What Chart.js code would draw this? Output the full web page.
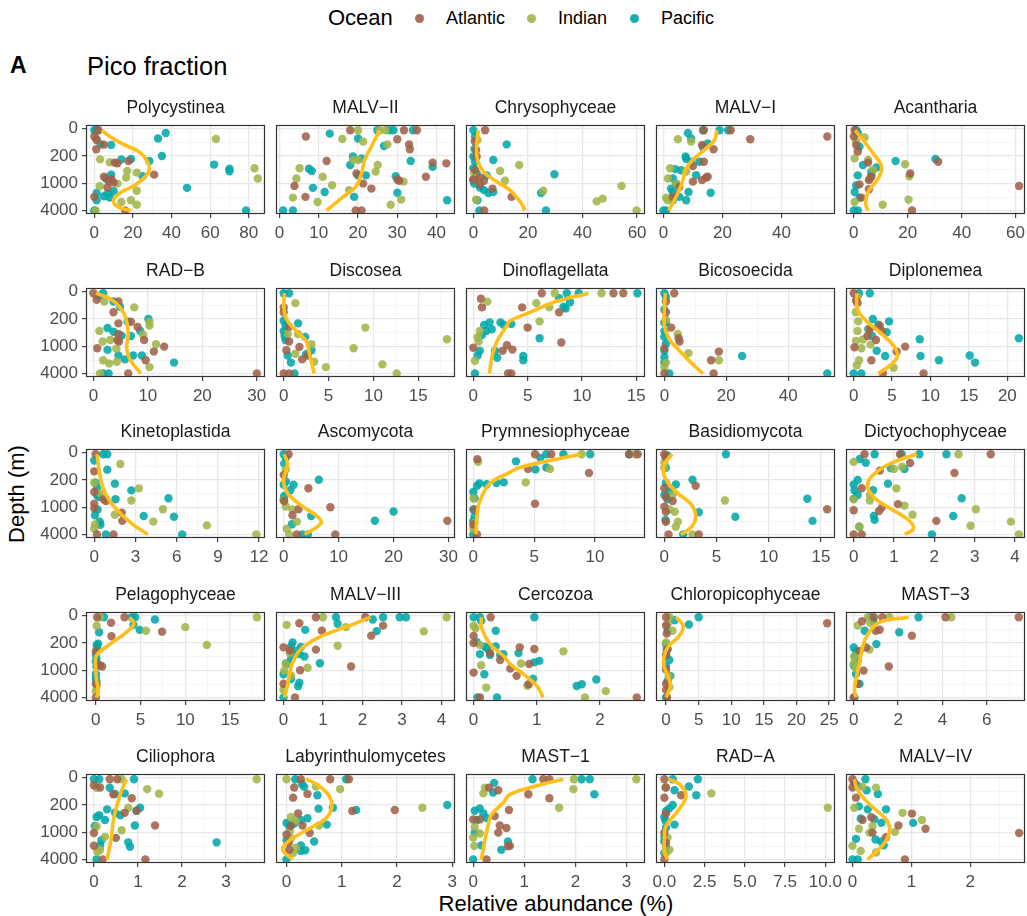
<!DOCTYPE html>
<html><head><meta charset="utf-8">
<script src="https://cdn.jsdelivr.net/npm/chart.js@4.4.1/dist/chart.umd.min.js"></script>
<style>
body{margin:0;background:#fff;width:1027px;height:916px;position:relative;overflow:hidden;font-family:"Liberation Sans",Arial,Helvetica,sans-serif;color:#000;}
.t{position:absolute;white-space:nowrap;}
canvas{position:absolute;}
.strip{position:absolute;font-size:17.5px;color:#1a1a1a;text-align:center;line-height:20px;white-space:nowrap;}
.dot{position:absolute;width:9px;height:9px;border-radius:50%;}
</style></head><body>
<div class="t" style="left:328px;top:5px;font-size:22px;line-height:26px;">Ocean</div>
<div class="dot" style="left:414.5px;top:13.5px;background:rgba(160,96,72,0.9)"></div>
<div class="t" style="left:446px;top:7px;font-size:18px;line-height:22px;">Atlantic</div>
<div class="dot" style="left:526.5px;top:13.5px;background:rgba(160,182,72,0.9)"></div>
<div class="t" style="left:558px;top:7px;font-size:18px;line-height:22px;">Indian</div>
<div class="dot" style="left:629.5px;top:13.5px;background:rgba(0,166,168,0.9)"></div>
<div class="t" style="left:661px;top:7px;font-size:18px;line-height:22px;">Pacific</div>
<div class="t" style="left:10px;top:52px;font-size:23px;line-height:26px;font-weight:bold;">A</div>
<div class="t" style="left:87px;top:51px;font-size:25.5px;line-height:30px;">Pico fraction</div>
<div class="t" style="left:17px;top:494px;font-size:22px;transform:translate(-50%,-50%) rotate(-90deg);">Depth (m)</div>
<div class="t" style="left:556px;top:904px;font-size:22px;transform:translate(-50%,-50%);">Relative abundance (%)</div>
<script>
// ---------------- DATA ----------------
const panelNames = ["Polycystinea","MALV\u2212II","Chrysophyceae","MALV\u2212I","Acantharia",
  "RAD\u2212B","Discosea","Dinoflagellata","Bicosoecida","Diplonemea",
  "Kinetoplastida","Ascomycota","Prymnesiophyceae","Basidiomycota","Dictyochophyceae",
  "Pelagophyceae","MALV\u2212III","Cercozoa","Chloropicophyceae","MAST\u22123",
  "Ciliophora","Labyrinthulomycetes","MAST\u22121","RAD\u2212A","MALV\u2212IV"];
const oceans = ["Atlantic","Indian","Pacific"];
const depthBreaks = [0,200,1000,4000];
// x-axis domain and tick step of each panel (relative abundance, %)
const xLimits = [[-4.3,88.4],[-0.9,44.7],[-2.7,62.9],[-2.5,58.1],[-2.9,63.5],
  [-1.35,31.5],[-0.86,19.1],[-0.67,15.8],[-2.7,55.1],[-1.0,22.3],
  [-0.6,12.43],[-1.4,31.2],[-0.6,14.1],[-0.8,16.35],[-0.19,4.25],
  [-1.1,18.9],[-0.19,4.34],[-0.12,2.71],[-1.54,25.9],[-0.35,7.72],
  [-0.18,3.89],[-0.19,3.05],[-0.14,3.36],[-0.52,10.6],[-0.11,2.93]];
const xSteps = [20,10,20,20,20, 10,5,5,20,5, 3,10,5,5,1, 5,1,1,5,2, 1,1,1,2.5,1];

// points: [relative abundance %, depth m]
const atlantic = [
 [[2,5],[0,33],[1.2,52],[1,124],[5,84],[10.6,306],[12,320],[17.7,278],[31,615],[5,690],[7.3,861],[6.8,1232],[0,2000],[16,4000],[9,800],[10,950]],
 [[18,5],[31.7,5],[35,5],[6.7,33],[30,48],[33,82],[33.2,124],[12,278],[39,306],[42.5,320],[37.3,690],[19.6,575],[21.3,1000],[30,800],[30.5,860],[3.8,1130],[23.4,1300],[6.6,2000],[19.4,4000],[20.9,4000]],
 [[4.3,5],[0.6,475],[2.4,720],[3.9,860],[2.4,1040],[7,1300],[0,800],[14,2000],[4,4000],[1.2,208],[0.5,60],[1,130]],
 [[13.7,5],[22.8,5],[29.4,48],[13.1,86],[17,124],[13.7,290],[10,378],[14.5,720],[13.1,830],[15,690],[10,900],[3.2,2000],[55.5,33],[5.4,1200]],
 [[0.3,5],[0,33],[0.9,86],[1.5,147],[5.3,306],[5.6,830],[2.1,1040],[6.5,690],[20.9,575],[31.3,290],[61.3,1130],[21.6,4000],[5.6,1340],[2.8,2080]],
 [[0,5],[0.6,34],[4.6,43],[3.7,124],[4.6,266],[6.9,240],[8.1,330],[4.6,500],[4.4,700],[4.7,760],[9.3,700],[0.7,1090],[11.1,1300],[13,1000],[9.6,2040],[6.4,4000],[30,4000]],
 [[0,82],[0,124],[0.6,330],[0.6,760],[0.3,1210],[2.05,1950],[1.75,1020],[0,4000],[0.6,4000],[2.7,1600]],
 [[0.7,29],[0.8,82],[0,1060],[3.1,930],[2.7,1250],[3.2,4000],[3.5,4000],[3.6,1170],[6.3,5],[12.9,5],[13.8,5],[4.5,82],[7.9,124],[5,345],[8.1,800]],
 [[3.2,5],[0.5,43],[0.5,124],[2.2,345],[4.6,635],[4.9,760],[17.6,1300],[15.1,2040],[15.9,4000],[0,4000],[0,1100]],
 [[0,5],[0.3,38],[0.5,53],[3.4,306],[2.1,378],[3.7,420],[2.9,700],[6.7,1000],[5.6,1300],[2.3,2040],[0.1,1040],[9.1,4000],[3.8,4000],[1.8,560]],
 [[0.1,5],[0,106],[0,420],[0,810],[0,1040],[0.7,635],[0.85,700],[2,1300],[2.04,2000],[0.2,4000],[1.4,4000]],
 [[0.9,5],[0,140],[4.5,337],[2.7,1090],[8.5,981],[29.8,1990],[2.4,4000],[9.4,4000],[1.6,1500],[0.1,700]],
 [[0.33,26],[0.1,1100],[0,2400],[0.3,4000],[5.07,5],[6.4,5],[12.8,5],[13.5,5],[4.5,86],[9.5,121],[5.07,810]],
 [[0,5],[0.1,16],[0,337],[0.15,560],[0,950],[0.15,1250],[3,290],[0.15,2100],[0.4,4000],[3.3,4000],[15.6,1090],[0.8,700]],
 [[0.27,5],[1.15,5],[3.4,5],[1.4,46],[2.5,121],[0.65,100],[0.2,337],[1.1,830],[0.7,1000],[0.63,1200],[0,1150],[2.05,2000],[0,4000],[0.2,4000]],
 [[0.15,5],[3.2,5],[1.7,29],[1.75,124],[7.4,84],[0.7,800],[0,340],[0,2000],[0,4000],[0.45,750]],
 [[0.82,5],[2.07,5],[0.4,31],[0.97,77],[2.52,44],[2.22,118],[0,266],[0.82,306],[0.16,320],[1.71,800],[0.42,981],[0,1990],[0.29,4000]],
 [[0.27,5],[0,120],[0,200],[0.1,4000],[0.26,380],[0,1110],[0.42,560],[0.73,266],[0.96,295],[0.68,1320],[0.87,2040],[0.88,700],[2.58,4000],[0.58,900]],
 [[0,5],[0,43],[0.1,100],[0,420],[0,940],[0,1990],[0,2700],[24.7,31],[0.15,4000],[0.25,300]],
 [[0.37,22],[0.91,5],[1.29,5],[4.14,5],[7.44,5],[0.99,77],[2.62,118],[0.26,330],[1.58,800],[0.44,1000],[0.18,1990],[0,4000],[0.56,270],[1.17,70]],
 [[0.36,5],[0.53,5],[0,31],[0.14,43],[0.44,89],[0.86,124],[0.7,330],[0.97,290],[1.39,680],[0,1020],[0.5,1320],[0,1990],[0.2,4000],[1.17,4000]],
 [[0.26,5],[0.79,5],[1.13,5],[0.14,43],[0.12,118],[0.38,86],[1.19,295],[1.96,278],[0.08,700],[0.29,680],[0.42,1020],[0,1100],[0.04,1700],[0.05,2450],[0.21,340]],
 [[0.13,485],[0.42,400],[0.7,278],[0.31,44],[0.49,60],[0.52,680],[0.49,1000],[0.65,780],[0.68,2040],[0.26,4000],[0,485],[1.37,5],[1.49,5],[1.08,89],[1.49,124],[0.72,2000]],
 [[0,5],[0.1,43],[0,118],[0.1,345],[1.04,97],[0,4000],[0,1000],[0.1,1700]],
 [[0,5],[0.03,20],[0,43],[0.06,118],[1.01,345],[0.78,680],[1.24,810],[0.34,1000],[0.57,1280],[2.83,1020],[0.89,4000],[0.32,430],[0.17,500]]
];
const indian = [
 [[63,46],[83,430],[84.7,760],[1.2,46],[3,250],[17,500],[16.5,720],[22,550],[2.8,1130],[22,1460],[14,2600],[19,2380],[22,3000],[0.7,4000],[12,1000],[8,300]],
 [[20,5],[25.5,5],[27,5],[16,46],[21.3,62],[27.5,82],[5.1,430],[4.3,760],[11,690],[13.4,1090],[24.5,520],[25,355],[20,260],[18.7,260],[31.6,900],[3.4,2080],[9.7,2600],[17.7,1410],[28.3,3000],[31,2300]],
 [[16.8,355],[25.6,1460],[54.3,1130],[45.2,2520],[47.4,2190],[59.8,4000],[9.8,500],[11.6,860],[1,2300],[0.2,560],[0.6,760],[1.5,52]],
 [[4.9,48],[9.4,62],[2.3,430],[1.5,760],[0.9,2080],[1.5,2380],[4.3,1000],[7.7,520]],
 [[4,38],[0.9,62],[0.3,235],[5.3,260],[19,337],[20.6,670],[5.9,760],[20.3,2300],[10.7,3000],[0.3,2600],[7.1,475]],
 [[2,43],[7.5,82],[1.1,420],[1.7,760],[3.1,700],[4.2,1110],[10.3,306],[10.3,240],[9.1,520],[11.5,880],[1.8,2040],[2.9,2400],[4.3,2200],[10.3,2900],[1.2,4000]],
 [[1.3,53],[0.45,500],[1.6,500],[3.1,880],[9.1,345],[18.2,670],[7.8,1090],[4.7,2900],[11,2520],[12.6,4000],[1.3,1460],[3.4,2200]],
 [[1.3,44],[0.6,420],[0.4,600],[0.15,2100],[0.5,760],[7.5,5],[11.8,5],[5.8,53],[7,82],[6.1,235]],
 [[4.3,500],[7.8,1410],[17.6,2040],[0,2900],[0.5,2300],[0.5,210]],
 [[0.5,20],[0.3,124],[0.6,235],[0.5,420],[0.3,740],[1,1090],[0.7,2040],[0.4,2650],[5.2,3000],[1.2,680],[2.2,900],[2,380]],
 [[1.9,52],[0,240],[3.25,340],[2.7,680],[5,1090],[4.3,2080],[8.2,2520],[11.8,4000],[0,3000],[0.05,2400],[1.5,1460],[0.4,450]],
 [[0.4,90],[0,680],[0.4,940],[2.4,2080],[0.55,3000],[1,4000],[1.6,1100]],
 [[0.4,40],[0,600],[0.1,2200],[0,3000],[8.9,5],[13.3,5],[6.3,86],[4.3,235]],
 [[0,43],[0,77],[0.8,494],[1,1250],[1.3,2080],[1.1,2700],[2.7,4000],[5.8,680],[0.5,1100]],
 [[0,40],[2.6,5],[1,86],[1.2,70],[1.06,340],[0.4,500],[0.4,680],[1.26,900],[1.46,1460],[3.03,1090],[2.9,2560],[3.9,2080],[4.1,4000],[0.14,2700],[0,640]],
 [[18,5],[0.1,45],[10,53],[5.6,77],[12.4,230],[0.1,2200],[0,2900],[0.45,5]],
 [[1,5],[4.13,5],[0.08,40],[1.58,53],[3.55,82],[1.37,240],[0.06,700],[0.16,380],[0.02,1000],[0.61,860],[0,2700],[0.19,1300]],
 [[0,45],[0.03,60],[0.1,230],[0.12,750],[0.2,2420],[1.42,340],[0.75,680],[0.85,2200],[1.76,4000],[2.09,2900]],
 [[0.5,5],[0.25,36],[1,77],[0,195],[0.4,1320],[0.5,2350]],
 [[0.18,43],[0.64,5],[1.6,5],[4.4,5],[0.75,30],[0.71,306],[0,680],[0.1,900],[0.03,460]],
 [[3.7,5],[0.63,5],[0.06,45],[1.21,53],[1.48,84],[0.78,240],[0.63,880],[0.06,720],[0.25,1250],[0.08,2700],[0.14,2450]],
 [[0,5],[0.53,38],[0.97,53],[2.46,240],[0.08,420],[0.16,520],[0.59,680],[0.06,960],[0.12,2900],[0.17,2200],[0.08,1350]],
 [[0.23,44],[0.2,82],[0,1300],[0.02,2000],[0.03,740],[0.13,1050],[1.97,5],[3.19,5],[1.96,53],[1.68,240]],
 [[0.06,43],[2.92,82],[10.15,240],[0.31,2450],[0.1,2900],[0.2,1300]],
 [[0.17,40],[0.4,44],[0.03,240],[0.85,330],[1.18,500],[0.11,810],[0.29,1000],[0.72,960],[0,2000],[0.14,2600],[0.4,2800],[0.34,700]]
];
const pacific = [
 [[0,5],[1,5],[2,5],[37,16],[33,43],[3.3,82],[8.7,86],[35,200],[14,250],[19,245],[28.5,278],[62,345],[70,440],[70,510],[8.7,615],[25,670],[48,1250],[1.2,1640],[7,1690],[10,1490],[5,1940],[8,2080],[1.2,2380],[78.6,4000],[0,4000],[6,760]],
 [[12.8,19],[20,43],[24.9,5],[27.9,5],[29,5],[34,5],[26.6,95],[18.7,208],[20.9,235],[18,355],[7.5,440],[8.2,500],[33.4,278],[39,395],[20,640],[22,640],[29.6,670],[30,1617],[19,2000],[8.5,1250],[11.5,1560],[42.7,2380],[0.9,4000],[3.4,4000]],
 [[0,5],[0.6,33],[0,208],[0.6,290],[0,430],[1.2,575],[0,830],[2.4,1232],[3.9,1410],[5.5,1640],[7.3,1560],[1.5,2380],[2.2,4000],[12.2,82],[7.3,260],[4.9,640],[29.7,600],[24.8,1640],[26.6,4000],[0.4,120],[0.3,1000]],
 [[13.4,5],[19,5],[21.9,5],[8.3,16],[9.4,43],[15,75],[13.4,106],[7.5,208],[7.7,240],[9.4,290],[12.2,290],[4,450],[6,480],[11.1,635],[3.2,760],[4.3,1000],[2.6,1300],[3.2,1560],[8.5,1560],[16,1620],[7.7,2380],[5.4,2000],[0,4000],[0.9,4000],[3.2,2380]],
 [[0.9,5],[1.5,16],[2.1,100],[15.5,278],[30.3,245],[3.4,355],[8.4,409],[6.5,520],[1.5,640],[0.9,1100],[0.3,1560],[2.1,2080],[0,4000],[1.5,4000],[6.5,640]],
 [[1.8,5],[1.2,15],[3.7,43],[4.9,77],[6.3,240],[10.1,201],[2.6,355],[3.7,440],[5.2,550],[6.9,560],[8.6,420],[2.6,1190],[4.6,1590],[5.8,1950],[7.3,1590],[8.9,1590],[14.8,2300],[1.8,4000],[2.8,4000]],
 [[0,5],[0.6,5],[0,225],[0.2,300],[0,420],[0.1,560],[1.6,266],[2.4,590],[3.1,1210],[2.5,1500],[0.45,1590],[0.8,2300],[1.2,4000],[0.2,700]],
 [[1,295],[1.5,250],[1.7,380],[1.2,420],[0.8,530],[0.6,1250],[0.4,1590],[0.15,4000],[2.5,250],[2.8,290],[2.2,1790],[2,1250],[8.6,5],[9.7,5],[15.1,5],[7.9,26],[8.9,48],[8.3,77],[8.5,90],[3.5,278],[6.1,635],[4.6,1640],[4.6,2040]],
 [[0,5],[0.5,20],[0,100],[0,255],[0,420],[0,590],[0.5,860],[0,1250],[0,1750],[0,2300],[1.6,4000],[25.1,1640],[52.6,4000],[0.5,250]],
 [[2.1,5],[0.7,5],[0,4000],[1,4000],[2.5,200],[4.6,235],[3.2,290],[1.9,380],[4.3,455],[2.4,560],[3,1250],[4.1,1640],[8.6,670],[8.7,1640],[11.1,2040],[15.1,1590],[15.8,2300],[21.5,635]],
 [[0.65,5],[0.95,5],[0,33],[0.95,92],[1.5,255],[0.1,240],[0.2,330],[0.2,500],[0.35,560],[2.7,384],[1.55,635],[5.4,600],[3.6,1560],[5.8,1617],[0.4,2100],[0.45,2450],[6.4,4000],[0.85,4000],[0.05,1500],[0.25,1100]],
 [[0,5],[0.4,20],[0.1,50],[6.4,198],[1.8,272],[1.2,380],[0,272],[0.1,530],[0,658],[5,1560],[20,1232],[16.6,1990],[1.5,2380],[3.4,4000],[4.4,4000],[0.4,220]],
 [[3.5,37],[0.3,290],[0.5,250],[1.1,265],[0,420],[0.1,600],[0,1100],[0.1,1600],[0,2000],[0,4000],[1.9,245],[2.5,235],[5.5,20],[6,5],[7.4,5],[9.6,5],[12.8,5],[5.1,90],[6,75]],
 [[0.3,10],[0.15,77],[5.9,5],[2.7,198],[1.1,270],[0.15,240],[0.5,400],[0,500],[0.3,640],[3.3,1280],[6.8,1617],[13.7,620],[14.2,2000],[0.1,1900],[1.8,4000]],
 [[0.52,5],[1.19,5],[1.63,5],[2.3,5],[0.15,25],[0.3,45],[0.92,80],[1.26,86],[0.85,255],[0.1,200],[0,270],[0.02,380],[0.1,500],[0,620],[0.48,380],[2.68,600],[0.5,1560],[0.52,1900],[2.47,1560],[0.14,2700],[1.94,4000]],
 [[0.9,5],[4,5],[4.4,5],[4.2,40],[6.6,14],[4.9,71],[0.37,89],[0.26,210],[0.15,280],[0,410],[0.07,530],[0,620],[0.07,800],[0,1200],[0,1500],[0.07,1800],[0.1,230]],
 [[1.33,5],[2.52,5],[2.94,5],[3.1,5],[1.37,34],[2.26,14],[2.36,80],[0.55,71],[0.23,195],[0.19,250],[0.44,260],[0.33,330],[0.4,400],[0.53,460],[0.19,540],[0.92,670],[0.14,690],[0,1210],[0.19,1560],[0.4,1880],[0.37,2250],[0,4000],[0.06,680],[0.25,430]],
 [[0,5],[0.1,5],[0.12,20],[0.35,77],[0.05,190],[0.18,255],[0.22,290],[0.35,250],[0.26,420],[0.1,400],[0.42,420],[0.47,400],[0.17,1210],[0.06,4000],[0.37,4000],[0.96,5],[0.71,378],[1.04,590],[0.96,640],[0.94,1530],[1.94,1590],[1.71,2040],[1.63,2225]],
 [[1.3,17],[3.5,38],[5,5],[0.25,77],[0,210],[0.1,300],[0,420],[0.5,560],[0.67,1320],[0,800],[0.25,1700],[0,4000]],
 [[0.76,5],[2.92,5],[0.49,77],[2.05,89],[1.02,216],[0,270],[0.1,330],[0.03,460],[0.18,590],[0,760],[0.1,1200],[0.26,2000],[0.03,4000],[0.87,20]],
 [[0,5],[0.12,5],[0.91,5],[0.36,45],[0.48,86],[0.7,82],[0.3,266],[0.12,380],[0.06,420],[0.02,700],[0.25,500],[0.48,330],[1.05,240],[0.97,290],[0.93,680],[0.78,1665],[0.82,2100],[0.14,1950],[0.17,1500],[2.79,1665],[0.06,4000],[0.6,380]],
 [[0.16,5],[1.08,5],[0.28,25],[0.32,40],[0.56,97],[0.58,255],[0.84,240],[1.26,278],[2.91,201],[0.38,455],[0.26,500],[0,590],[0.14,610],[0.73,648],[0.5,1590],[0.26,1950],[0,1500],[0.34,2500],[0.26,2600],[0,4000],[0.05,720]],
 [[0.41,20],[0.39,75],[0.03,290],[0.13,250],[0.2,340],[0.26,450],[0.07,500],[0.03,1000],[0.16,1950],[0,4000],[0.55,2450],[0.68,1590],[1.16,5],[2.12,5],[2.28,5],[2.37,89]],
 [[0.52,5],[2.08,5],[1.52,38],[0.63,60],[1.98,97],[0.52,201],[0.31,250],[0.1,300],[0,420],[0.06,520],[0.63,648],[0.1,760],[0,1250],[0,1600],[0.1,2080],[0,2900]],
 [[0.22,5],[0.03,20],[0.09,35],[0.24,60],[0.43,86],[0.11,220],[0.26,266],[0.57,266],[0.14,460],[0.37,480],[0.49,590],[1.03,590],[0.06,1390],[0.39,1440],[0.49,1590],[0.53,1950],[0,4000],[0.09,4000]]
];
// smoothed trend (yellow line)
const fitLines = [
 [[3.8,5],[8,33],[14,75],[24,165],[28.5,395],[27,635],[21,1090],[14,1560],[10,2380],[12.5,3380],[19,4000]],
 [[25.5,5],[23.8,75],[21.7,260],[20.9,575],[19.4,1190],[16.2,2000],[12,4000]],
 [[1.8,5],[1.2,100],[1.5,260],[3.7,520],[8.5,900],[13.4,1410],[17.7,2860],[18.9,4000]],
 [[18.1,5],[17.3,52],[14.5,115],[10.5,235],[7.7,430],[6.6,830],[5.4,1410],[3.7,2380],[1.8,4000]],
 [[0.5,5],[3.4,52],[7.1,165],[10.3,395],[9,760],[5.3,1560],[4.4,2860],[5.3,4000]],
 [[0.5,5],[3.1,29],[4.9,82],[6,200],[6.4,500],[6.1,1060],[6.7,1950],[8.7,4000]],
 [[0.1,5],[0,68],[0.3,200],[1.4,420],[2.5,740],[2.8,1250],[3.1,2300],[3.4,4000]],
 [[10.6,5],[7.4,48],[5.2,124],[3.4,225],[3.1,306],[2.2,740],[1.7,1790],[1.5,4000]],
 [[0.3,5],[0,108],[0,306],[1.6,670],[4.9,1250],[8.6,2300],[12.4,4000]],
 [[0.4,5],[0.5,95],[1.6,225],[3.4,455],[5.2,960],[5.7,1640],[4.9,2520],[3.2,4000]],
 [[0.2,5],[0.35,92],[0.6,300],[1.15,720],[1.9,1340],[2.85,2460],[3.9,4000]],
 [[0.1,5],[0.7,55],[0,198],[0.7,450],[3.5,950],[6.2,1617],[6.8,2261],[3.8,4000]],
 [[8.8,5],[6,37],[3.8,75],[3,115],[1.4,245],[0.7,540],[0.35,1130],[0.22,4000]],
 [[0.75,5],[0,55],[0,154],[1.1,409],[2.6,860],[3,1617],[2.6,2720],[1.6,4000]],
 [[1.57,5],[1.15,28],[0.65,92],[0.35,245],[0.48,540],[0.9,1040],[1.36,1911],[1.48,2954],[1.27,4000]],
 [[3.8,5],[4.25,34],[3.4,89],[1.6,216],[0.07,440],[0,940],[0.07,1590],[0.26,2900],[0.07,4000]],
 [[2.2,5],[1.67,44],[0.9,134],[0.44,295],[0.23,648],[0.14,1320],[0.1,2225],[0.02,4000]],
 [[0.12,5],[0.13,62],[0.26,216],[0.47,440],[0.58,700],[0.79,1210],[1,2225],[1.1,4000]],
 [[1.5,5],[2.6,44],[2.05,118],[0.26,266],[-0.4,648],[0.26,1320],[0.67,2225],[0,4000]],
 [[2.47,5],[1.17,26],[0.64,103],[0.41,240],[0.26,648],[0.1,1590],[0.03,2680],[0.1,4000]],
 [[0.74,5],[0.63,62],[0.52,216],[0.44,530],[0.4,1210],[0.3,4000]],
 [[0.35,5],[0.59,34],[0.81,150],[0.75,401],[0.44,770],[0.08,1440],[-0.07,2420],[0.11,4000]],
 [[1.76,5],[1.24,34],[0.72,89],[0.59,170],[0.36,364],[0.29,700],[0.23,1440],[0.16,4000]],
 [[0.27,5],[0.94,26],[1.35,103],[0.83,295],[0.1,700],[0,1440],[0,2680],[0.2,4000]],
 [[0.03,5],[0.09,62],[0.32,216],[0.57,485],[0.63,940],[0.52,1880],[0.26,4000]]
];

// ---------------- DEPTH SCALE (transformed axis) ----------------
const DC = 70, DK = 3 / Math.log((4000 + DC) / DC);
const tDepth = d => DK * Math.log((Math.max(d, 0) + DC) / DC);
const dDepth = t => DC * (Math.exp(t / DK) - 1);
const T_MIN = -0.14, T_MAX = 3.13;
const BaseLinear = Chart.LinearScale || Chart.registry.getScale('linear');
class DepthScale extends BaseLinear {
  getPixelForValue(v) {
    if (v === null || v === undefined || isNaN(v)) return NaN;
    return this.top + (tDepth(v) - T_MIN) / (T_MAX - T_MIN) * (this.bottom - this.top);
  }
  getValueForPixel(p) {
    return dDepth(T_MIN + (p - this.top) / (this.bottom - this.top) * (T_MAX - T_MIN));
  }
}
DepthScale.id = 'depth';
DepthScale.defaults = BaseLinear.defaults;
Chart.register(DepthScale);

// y ticks: majors at depthBreaks, minors midway in transformed space
const yTicks = [];
depthBreaks.forEach((b, k) => {
  yTicks.push({v: b, major: true});
  if (k < depthBreaks.length - 1) yTicks.push({v: dDepth((tDepth(b) + tDepth(depthBreaks[k + 1])) / 2), major: false});
});

// ---------------- LAYOUT ----------------
const FONT = '"Liberation Sans", Arial, Helvetica, sans-serif';
const LEFTS = [86, 276, 466, 656, 846], TOPS = [125, 288, 449, 612, 774];
const PW = 179, PH = 89, PADX = 10, PADT = 10, XAX = 34, YAX = 75;
const COLORS = ['rgba(160,96,72,0.87)', 'rgba(160,182,72,0.87)', 'rgba(0,166,168,0.87)'];
const LINE = '#FFBF1A';
const GRID_MAJOR = '#E8E8E8', GRID_MINOR = '#F2F2F2', DARK = '#333333', TICKTXT = '#4D4D4D';
const toXY = arr => arr.map(p => ({x: p[0], y: p[1]}));

const framePlugin = {
  id: 'frame',
  afterDatasetsDraw(chart) {
    const {ctx, chartArea: a} = chart;
    ctx.save();
    ctx.strokeStyle = DARK; ctx.lineWidth = 1.2;
    ctx.strokeRect(Math.round(a.left) + 0.5, Math.round(a.top) + 0.5, Math.round(a.right - a.left) - 1, Math.round(a.bottom - a.top) - 1);
    ctx.restore();
  }
};

Chart.defaults.font.family = FONT;
Chart.defaults.animation = false;

panelNames.forEach((name, i) => {
  const r = Math.floor(i / 5), c = i % 5;
  const left = LEFTS[c], top = TOPS[r];
  const yw = c === 0 ? YAX : 0;
  const W = PADX * 2 + yw + PW, H = PADT + PH + XAX;
  const cv = document.createElement('canvas');
  cv.width = W; cv.height = H;
  cv.style.left = (left - PADX - yw) + 'px'; cv.style.top = (top - PADT) + 'px';
  cv.style.width = W + 'px'; cv.style.height = H + 'px';
  document.body.appendChild(cv);

  const strip = document.createElement('div');
  strip.className = 'strip';
  strip.style.left = left + 'px'; strip.style.width = PW + 'px'; strip.style.top = (top - 28) + 'px';
  strip.textContent = name;
  document.body.appendChild(strip);

  const [xmin, xmax] = xLimits[i];
  const step = xSteps[i], half = step / 2;
  const dec = Number.isInteger(step) ? 0 : 1;
  const xTicks = [];
  for (let k = 0; k * half <= xmax + 1e-9; k++) xTicks.push({v: +(k * half).toFixed(4), major: k % 2 === 0});

  const series = [atlantic[i], indian[i], pacific[i]];
  const datasets = [{
    label: 'trend', data: toXY(fitLines[i]), showLine: true, tension: 0.4,
    borderColor: LINE, borderWidth: 3.6, pointRadius: 0, fill: false, order: -1,
    borderCapStyle: 'butt', borderJoinStyle: 'round'
  }];
  series.forEach((s, k) => datasets.push({
    label: oceans[k], data: toXY(s), pointRadius: 4.2, pointHoverRadius: 4.2,
    backgroundColor: COLORS[k], borderWidth: 0, showLine: false, order: 0
  }));

  new Chart(cv, {
    type: 'scatter',
    data: {datasets},
    plugins: [framePlugin],
    options: {
      responsive: false, maintainAspectRatio: false, animation: false, events: [],
      layout: {autoPadding: false, padding: {left: PADX, right: PADX, top: PADT, bottom: 0}},
      plugins: {legend: {display: false}, tooltip: {enabled: false}, title: {display: false}},
      scales: {
        x: {
          type: 'linear', position: 'bottom', min: xmin, max: xmax,
          afterBuildTicks: s => { s.ticks = xTicks.map(t => ({value: t.v})); },
          afterFit: s => { s.height = XAX; s.paddingLeft = 0; s.paddingRight = 0; },
          border: {display: false},
          grid: {
            drawOnChartArea: true, drawTicks: true, tickLength: 4,
            color: ctx => (xTicks[ctx.index] && xTicks[ctx.index].major) ? GRID_MAJOR : GRID_MINOR,
            lineWidth: ctx => (xTicks[ctx.index] && xTicks[ctx.index].major) ? 1.3 : 0.7,
            tickColor: ctx => (xTicks[ctx.index] && xTicks[ctx.index].major) ? DARK : 'rgba(0,0,0,0)',
            tickWidth: 1.1
          },
          ticks: {
            autoSkip: false, maxRotation: 0, minRotation: 0, padding: 5, color: TICKTXT,
            font: {family: FONT, size: 17},
            callback: (v, idx) => (xTicks[idx] && xTicks[idx].major) ? xTicks[idx].v.toFixed(dec) : ''
          }
        },
        y: {
          type: 'depth', position: 'left', min: 0, max: 4000,
          afterBuildTicks: s => { s.ticks = yTicks.map(t => ({value: t.v})); },
          afterFit: s => { s.width = yw; s.paddingTop = 0; s.paddingBottom = 0; },
          border: {display: false},
          grid: {
            drawOnChartArea: true, drawTicks: c === 0, tickLength: 4,
            color: ctx => (yTicks[ctx.index] && yTicks[ctx.index].major) ? GRID_MAJOR : GRID_MINOR,
            lineWidth: ctx => (yTicks[ctx.index] && yTicks[ctx.index].major) ? 1.3 : 0.7,
            tickColor: ctx => (yTicks[ctx.index] && yTicks[ctx.index].major) ? DARK : 'rgba(0,0,0,0)',
            tickWidth: 1.1
          },
          ticks: {
            display: c === 0, autoSkip: false, padding: 4, color: TICKTXT,
            font: {family: FONT, size: 17},
            callback: (v, idx) => (yTicks[idx] && yTicks[idx].major) ? String(yTicks[idx].v) : ''
          }
        }
      }
    }
  });
});
</script>
</body></html>
